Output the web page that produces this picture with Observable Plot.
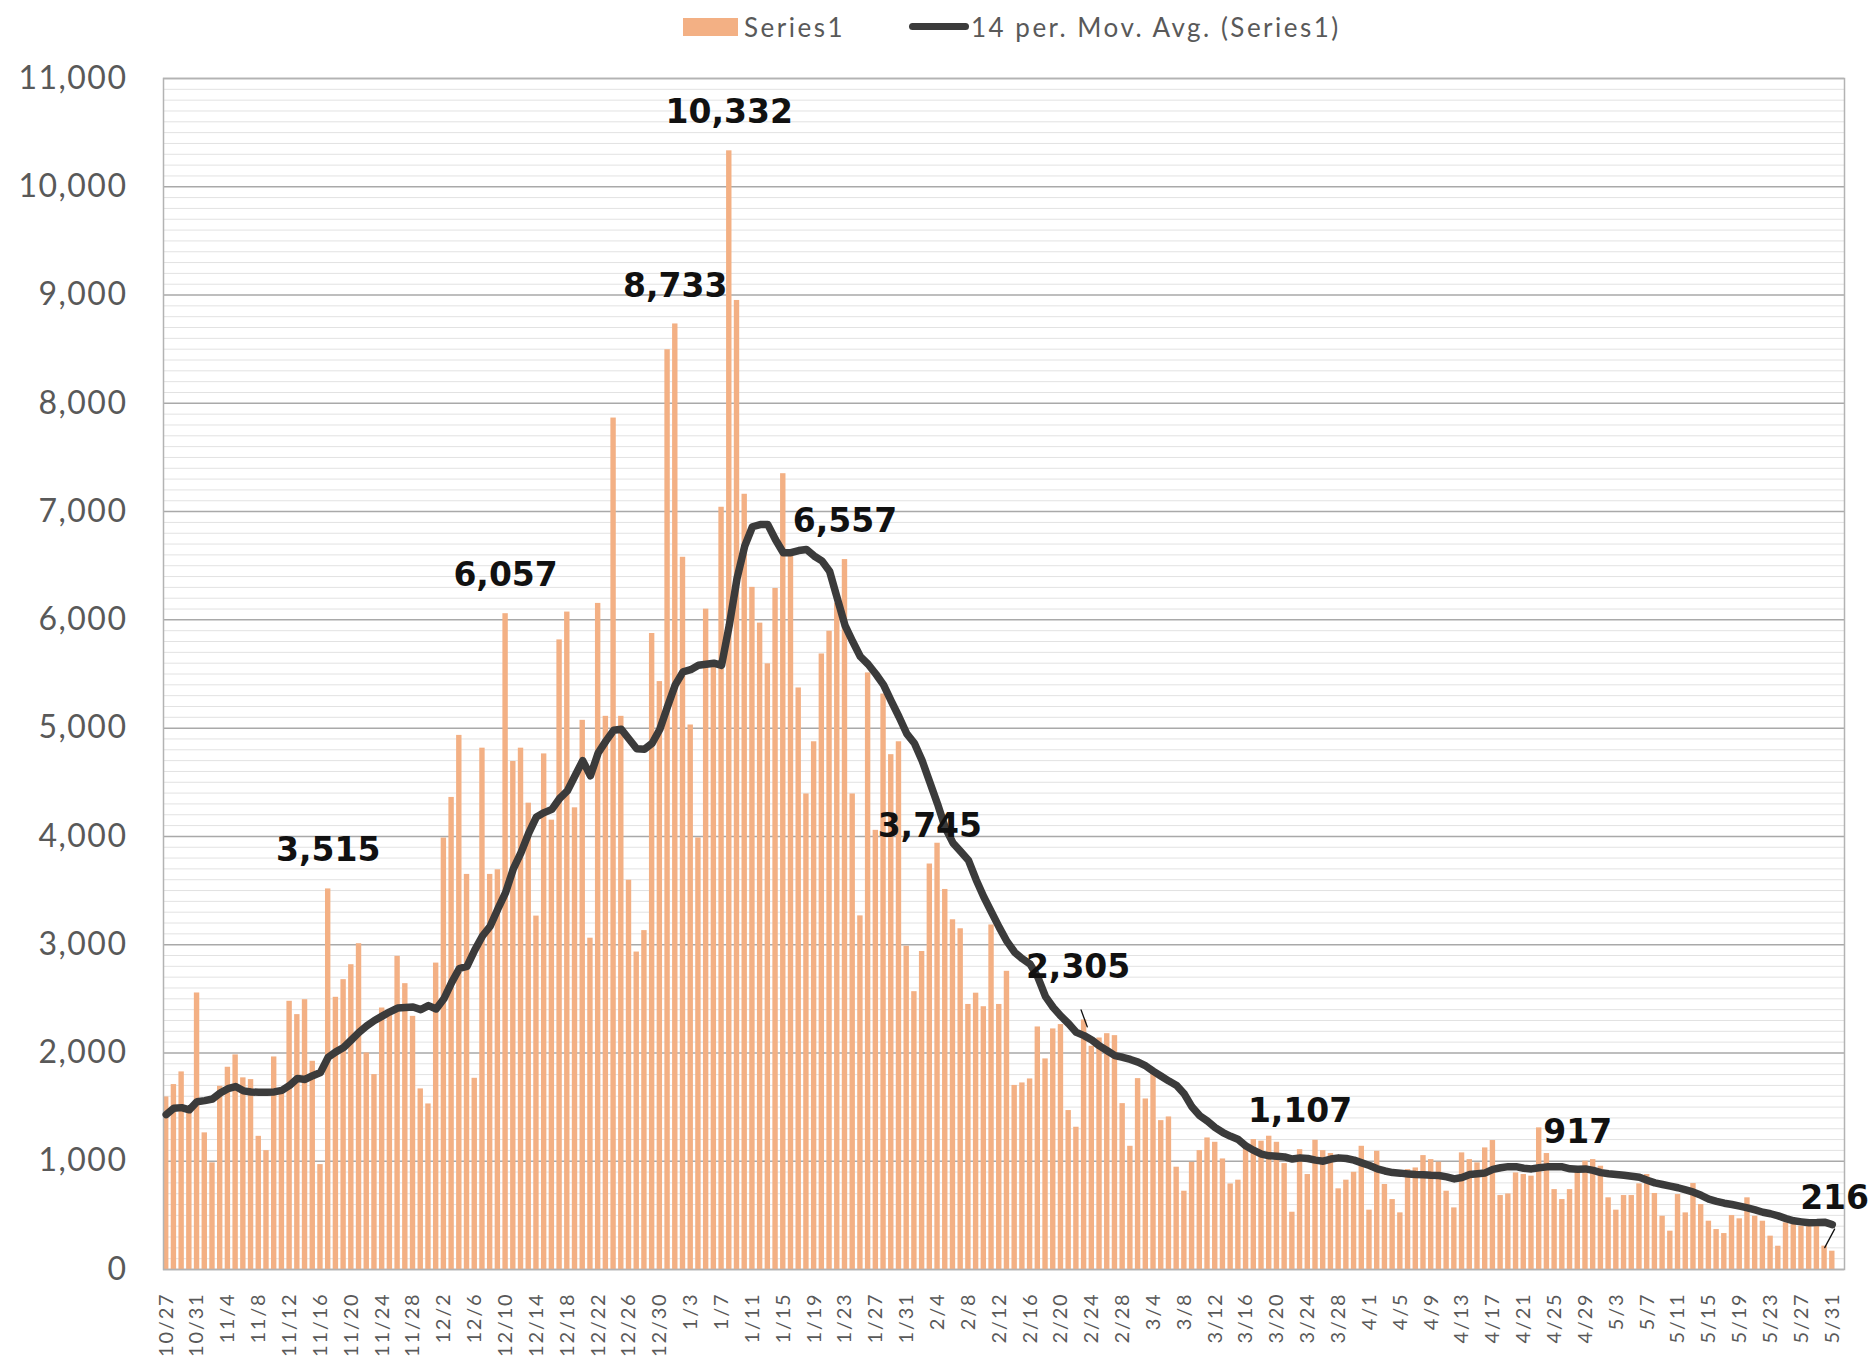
<!DOCTYPE html>
<html>
<head>
<meta charset="utf-8">
<script src="https://cdn.jsdelivr.net/npm/d3@7"></script>
<script src="https://cdn.jsdelivr.net/npm/@observablehq/plot@0.6"></script>
<style>
  html, body { margin: 0; padding: 0; background: #ffffff; }
  body { width: 1876px; height: 1358px; overflow: hidden; font-family: Lato, "Noto Sans", sans-serif; }
  #legend { position: relative; width: 1876px; height: 55px; }
  #legend .sw-bar { position: absolute; left: 683px; top: 18px; width: 55px; height: 18px; background: #F3B084; }
  #legend .sw-line { position: absolute; left: 909px; top: 23px; width: 60px; height: 7px; background: #3b3b3b; border-radius: 3.5px; }
  #legend .lbl { position: absolute; top: 14px; font-size: 26px; line-height: 1; color: #595959; letter-spacing: 2.5px; white-space: nowrap; }
  #chart svg [aria-label="y-axis tick label"] text { letter-spacing: 1.5px; }
  #chart svg [aria-label="x-axis tick label"] text { letter-spacing: 1.8px; }
</style>
</head>
<body>
<div id="legend">
  <span class="sw-bar"></span><span class="lbl" style="left:744px">Series1</span>
  <span class="sw-line"></span><span class="lbl" style="left:971px">14 per. Mov. Avg. (Series1)</span>
</div>
<div id="chart"></div>
<script>
// ---------- data (daily values, 2020-10-27 .. 2021-05-31) ----------
const startDay = [2020, 9, 27];   // 10/27
const endDay   = [2021, 5, 1];    // exclusive (6/1)

const casesOct = [1594, 1708, 1825, 1480, 2554];
const casesNov = [1262, 985, 1692, 1868, 1982, 1770, 1754, 1230, 1098, 1963, 1650, 2477, 2354, 2492, 1923,
                  969, 3515, 2514, 2677, 2815, 3009, 2000, 1800, 2415, 2350, 2892, 2640, 2338, 1668, 1529];
const casesDec = [2830, 3985, 4360, 4933, 3649, 1766, 4815, 3649, 3692, 6057, 4692, 4815, 4307, 3264, 4762,
                  4150, 5815, 6072, 4264, 5072, 3060, 6152, 5109, 7864, 5109, 3595, 2932, 3130, 5874, 5430, 8495];
const casesJan = [8733, 6578, 5029, 3986, 6099, 5600, 7040, 10332, 8950, 7160, 6300, 5970, 5594, 6290, 7350,
                  6643, 5371, 4392, 4874, 5685, 5895, 6154, 6557, 4392, 3266, 5510, 4056, 5315, 4755, 4874, 2986];
const casesFeb = [2566, 2937, 3745, 3937, 3510, 3230, 3147, 2448, 2552, 2427, 3182, 2448, 2754, 1700,
                  1723, 1760, 2240, 1945, 2222, 2262, 1468, 1314, 2305, 2062, 2138, 2178, 2160, 1532];
const casesMar = [1138, 1763, 1575, 1809, 1375, 1409, 945, 723, 990, 1098, 1215, 1175, 1021, 790, 825,
                  1114, 1200, 1185, 1231, 1175, 978, 529, 1107, 877, 1194, 1098, 1071, 745, 825, 898, 1138];
const casesApr = [548, 1092, 785, 646, 523, 923, 938, 1052, 1015, 991, 723, 569, 1077, 1015, 985,
                  1123, 1191, 683, 698, 892, 877, 862, 1308, 1071, 738, 646, 738, 917, 1000, 1015];
const casesMay = [954, 662, 548, 683, 683, 791, 877, 702, 492, 354, 692, 523, 794, 600, 446, 369,
                  332, 498, 468, 662, 492, 446, 308, 215, 431, 415, 400, 415, 400, 216, 169];

// 14 per. moving average as drawn in the picture
const maOct = [1431, 1490, 1495, 1475, 1550];
const maNov = [1560, 1575, 1630, 1670, 1690, 1650, 1640, 1637, 1637, 1640, 1655, 1700, 1765, 1755, 1790,
               1820, 1960, 2010, 2050, 2120, 2190, 2250, 2300, 2340, 2380, 2415, 2420, 2425, 2400, 2437];
const maDec = [2406, 2500, 2650, 2780, 2800, 2950, 3080, 3170, 3330, 3480, 3700, 3850, 4030, 4180, 4220,
               4250, 4350, 4420, 4560, 4700, 4560, 4770, 4880, 4980, 4990, 4900, 4810, 4805, 4860, 4990, 5200];
const maJan = [5400, 5520, 5540, 5580, 5590, 5600, 5580, 5950, 6380, 6680, 6860, 6880, 6880, 6740, 6620,
               6620, 6640, 6650, 6590, 6545, 6450, 6200, 5950, 5800, 5660, 5590, 5500, 5400, 5250, 5105, 4950];
const maFeb = [4860, 4700, 4500, 4300, 4080, 3940, 3860, 3780, 3600, 3440, 3300, 3160, 3030, 2930,
               2870, 2820, 2700, 2520, 2420, 2340, 2270, 2190, 2160, 2120, 2065, 2020, 1975, 1960];
const maMar = [1940, 1915, 1880, 1830, 1785, 1740, 1700, 1620, 1500, 1420, 1370, 1310, 1265, 1230, 1200,
               1140, 1100, 1065, 1050, 1046, 1040, 1020, 1031, 1025, 1010, 1000, 1020, 1031, 1025, 1010, 985];
const maApr = [960, 930, 910, 895, 890, 883, 877, 875, 870, 868, 855, 837, 850, 877, 885,
               892, 925, 940, 950, 950, 935, 929, 940, 948, 948, 948, 930, 925, 929, 915];
const maMay = [895, 885, 878, 871, 862, 852, 825, 800, 785, 770, 755, 735, 714, 685, 650, 630,
               612, 600, 585, 569, 550, 529, 515, 495, 470, 450, 440, 431, 433, 437, 415];

const tickLabels = ["10/27","10/31","11/4","11/8","11/12","11/16","11/20","11/24","11/28","12/2","12/6",
  "12/10","12/14","12/18","12/22","12/26","12/30","1/3","1/7","1/11","1/15","1/19","1/23","1/27","1/31",
  "2/4","2/8","2/12","2/16","2/20","2/24","2/28","3/4","3/8","3/12","3/16","3/20","3/24","3/28","4/1",
  "4/5","4/9","4/13","4/17","4/21","4/25","4/29","5/3","5/7","5/11","5/15","5/19","5/23","5/27","5/31"];

const yTicks = [0, 1000, 2000, 3000, 4000, 5000, 6000, 7000, 8000, 9000, 10000, 11000];

// days carrying a data label
const labelledDays = ["11/17", "12/10", "1/1", "1/8", "1/23", "2/3", "3/23", "4/28"];
const movedLabelDays = ["2/23", "5/30"];   // labels moved off the bar, with leader line

// ---------- build table ----------
const fmtDay = d3.utcFormat("%-m/%-d");
const days = d3.utcDay.range(new Date(Date.UTC(...startDay)), new Date(Date.UTC(...endDay))).map(fmtDay);
const cases = [].concat(casesOct, casesNov, casesDec, casesJan, casesFeb, casesMar, casesApr, casesMay);
const ma = [].concat(maOct, maNov, maDec, maJan, maFeb, maMar, maApr, maMay);
const rows = days.map((day, i) => ({day, cases: cases[i], ma: ma[i]}));
const byDay = new Map(rows.map(r => [r.day, r]));
const labelRows = labelledDays.map(d => byDay.get(d));
const moved2305 = [byDay.get(movedLabelDays[0])];
const moved216 = [byDay.get(movedLabelDays[1])];

const minorTicks = d3.range(100, 11000, 100).filter(v => v % 1000 !== 0);

const leader = {draw(context, length) { context.moveTo(0, 0); context.lineTo(0, -length); }};
const fmt = d3.format(",");
const labelFont = "'DejaVu Sans', Verdana, sans-serif";

const chart = Plot.plot({
  width: 1876,
  height: 1303,
  marginLeft: 163,
  marginRight: 32,
  marginTop: 23,
  marginBottom: 89,
  style: {fontFamily: "Lato, 'Noto Sans', sans-serif", background: "#ffffff", overflow: "visible"},
  x: {type: "band", domain: days, range: [163, 1834.5], paddingInner: 0.3, paddingOuter: 0, label: null},
  y: {domain: [0, 11000], label: null},
  marks: [
    Plot.ruleY(minorTicks, {stroke: "#e2e2e2", strokeWidth: 1}),
    Plot.ruleY(yTicks, {stroke: "#a9a9a9", strokeWidth: 1.5}),
    Plot.barY(rows, {x: "day", y: "cases", fill: "#F3B084"}),
    Plot.frame({stroke: "#b3b3b3", strokeWidth: 1.5}),
    Plot.line(rows, {x: "day", y: "ma", stroke: "#3b3b3b", strokeWidth: 7.5,
                     strokeLinejoin: "round", strokeLinecap: "round"}),
    Plot.axisY({ticks: yTicks, tickSize: 0, tickPadding: 36, tickFormat: d => fmt(d),
                fontSize: 32, fill: "#595959", label: null}),
    Plot.axisX({ticks: tickLabels, tickSize: 0, tickPadding: 23, tickRotate: -90,
                fontSize: 20, fill: "#595959", label: null}),
    Plot.text(labelRows, {x: "day", y: "cases", text: d => fmt(d.cases), dy: -38,
                          fontSize: 33, fontWeight: "bold", fontFamily: labelFont, fill: "#111"}),
    Plot.text(moved2305, {x: "day", y: "cases", text: d => fmt(d.cases), dx: -6, dy: -52,
                          fontSize: 33, fontWeight: "bold", fontFamily: labelFont, fill: "#111"}),
    Plot.vector(moved2305, {x: "day", y: "cases", length: 18, rotate: 160, anchor: "start",
                            dx: -3, dy: -10, shape: leader, stroke: "#111", strokeWidth: 1.3}),
    Plot.text(moved216, {x: "day", y: "cases", text: d => fmt(d.cases), dx: 10, dy: -48,
                         fontSize: 33, fontWeight: "bold", fontFamily: labelFont, fill: "#111"}),
    Plot.vector(moved216, {x: "day", y: "cases", length: 21, rotate: 208, anchor: "start",
                           dx: 10, dy: -17, shape: leader, stroke: "#111", strokeWidth: 1.3})
  ]
});
document.getElementById("chart").appendChild(chart);
</script>
</body>
</html>
